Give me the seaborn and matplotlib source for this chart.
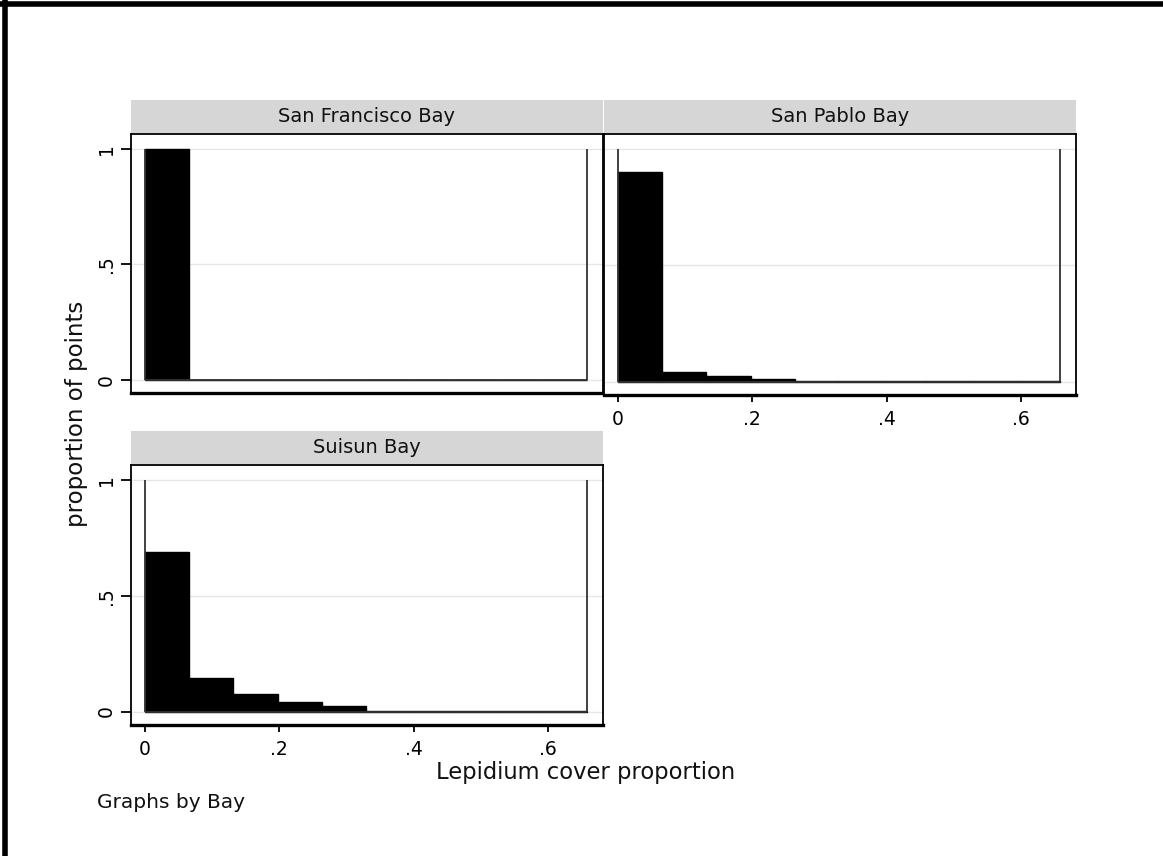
import numpy as np
import pandas as pd
import matplotlib
matplotlib.use('Agg')
import matplotlib.pyplot as plt
import seaborn as sns
from matplotlib.lines import Line2D
from matplotlib.patches import Rectangle

# Histogram data (proportion of points per bin)
bays = ['San Francisco Bay', 'San Pablo Bay', 'Suisun Bay']
bin_width = 0.0658
n_bins = 10
sf_props = [1.0, 0, 0, 0, 0, 0, 0, 0, 0, 0]
sp_props = [0.902, 0.041, 0.022, 0.012, 0.002, 0.001, 0.001, 0.001, 0.001, 0.001]
su_props = [0.687, 0.144, 0.075, 0.041, 0.023, 0.003, 0.002, 0.002, 0.001, 0.001]
x_ticks = [0, 0.2, 0.4, 0.6]
x_labels = ['0', '.2', '.4', '.6']
y_ticks = [0, 0.5, 1]
y_labels = ['0', '.5', '1']

edges = np.arange(n_bins + 1) * bin_width
centers = edges[:-1] + bin_width / 2
df = pd.DataFrame({
    'Bay': np.repeat(bays, n_bins),
    'cover': np.tile(centers, 3),
    'prop': np.concatenate([sf_props, sp_props, su_props]),
})

sns.set_style('white')
plt.rcParams['font.family'] = ['DejaVu Sans']

W, H = 1163, 856
fig = plt.figure(figsize=(W / 100, H / 100), dpi=100)


def px_axes(x0, y0, x1, y1):
    return fig.add_axes([x0 / W, 1 - y1 / H, (x1 - x0) / W, (y1 - y0) / H])


# (panel box in pixels, show x ticks, show y ticks)
layout = {
    'San Francisco Bay': ((131, 134, 603, 393), False, True),
    'San Pablo Bay': ((604, 134, 1076, 395), True, False),
    'Suisun Bay': ((131, 465, 603, 725), True, True),
}

for bay in bays:
    (x0, y0, x1, y1), show_x, show_y = layout[bay]
    ax = px_axes(x0, y0, x1, y1)
    sub = df[df['Bay'] == bay]
    for yv in y_ticks:
        ax.axhline(yv, color='#e6e6e6', lw=1, zorder=0)
    sns.histplot(data=sub, x='cover', weights='prop', binwidth=bin_width,
                 binrange=(edges[0], edges[-1]), stat='count',
                 color='black', edgecolor='black', linewidth=1.0, alpha=1,
                 ax=ax)
    ax.vlines([edges[0], edges[-1]], 0, 1, color='#333333', lw=1.3, zorder=3)
    ax.hlines(0, edges[0], edges[-1], color='#333333', lw=1.3, zorder=3)
    ax.set_xlim(-0.0208, 0.682)
    ax.set_ylim(-0.058, 1.064)
    ax.set_xlabel('')
    ax.set_ylabel('')
    for s in ax.spines.values():
        s.set_visible(True)
        s.set_color('black')
        s.set_linewidth(1.3)
    ax.spines['bottom'].set_linewidth(2.4)
    if show_x:
        ax.set_xticks(x_ticks)
        ax.set_xticklabels(x_labels, fontsize=13.5, color='#111111')
        ax.tick_params(axis='x', bottom=True, direction='out', length=5,
                       width=1.3, pad=6, colors='black')
    else:
        ax.set_xticks([])
    if show_y:
        ax.set_yticks(y_ticks)
        ax.set_yticklabels(y_labels, fontsize=13.5, rotation=90, va='center',
                           color='#111111')
        ax.tick_params(axis='y', left=True, direction='out', length=7,
                       width=1.3, pad=4, colors='black')
    else:
        ax.set_yticks([])
    # strip header
    sx = fig.add_axes([x0 / W, 1 - (y0 - 1) / H, (x1 - x0) / W, 33 / H])
    sx.add_patch(Rectangle((0, 0), 1, 1, color='#d6d6d6', transform=sx.transAxes))
    sx.text(0.5, 0.5, bay, ha='center', va='center', fontsize=14,
            color='#111111')
    sx.set_axis_off()

fig.text(76 / W, 1 - 414 / H, 'proportion of points', rotation=90,
         ha='center', va='center', fontsize=16.5, color='#111111')
fig.text(586 / W, 1 - 772 / H, 'Lepidium cover proportion',
         ha='center', va='center', fontsize=16.3, color='#111111')
fig.text(97 / W, 1 - 802 / H, 'Graphs by Bay', ha='left', va='center',
         fontsize=14.5, color='#111111')

# outer frame (top and left edges visible)
fig.add_artist(Line2D([0, 1], [1 - 4 / H, 1 - 4 / H], color='black', lw=4,
                      transform=fig.transFigure))
fig.add_artist(Line2D([5 / W, 5 / W], [0, 1], color='black', lw=4,
                      transform=fig.transFigure))

fig.savefig('out.png', dpi=100)
